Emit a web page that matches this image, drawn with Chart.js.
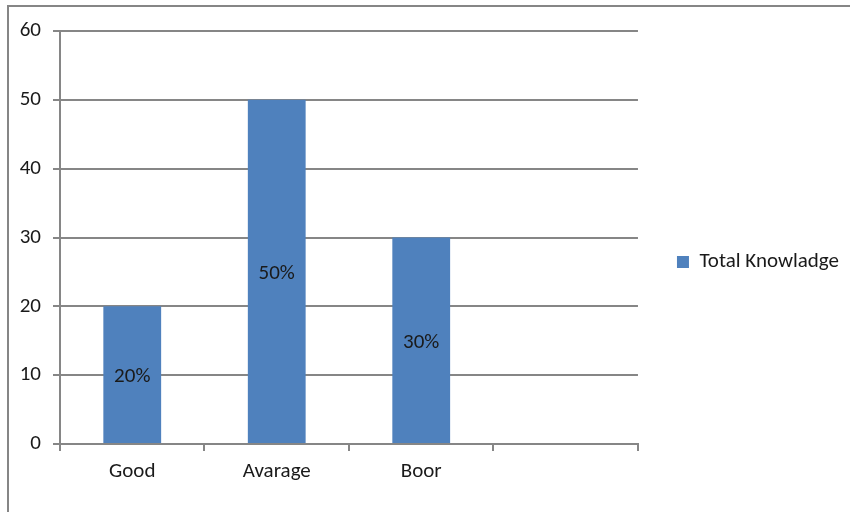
<!doctype html>
<html lang="en">
<head>
    <meta charset="utf-8">
    <title>Total Knowladge</title>
    <style>
        body { margin: 0; background: #fff; }
        .frame { position: absolute; left: 7px; top: 5px; width: 900px; height: 600px;
                 border-left: 2px solid #868686; border-top: 2px solid #868686; }
        #myChart { position: absolute; left: 0; top: 0; }
    </style>
</head>
<body>
    <div class="frame"></div>
    <canvas id="myChart" width="850" height="512"></canvas>

    <script src="https://cdn.jsdelivr.net/npm/chart.js"></script>
    <script>
        var categories = ['Good', 'Avarage', 'Boor', ''];
        var knowledge = [20, 50, 30, null];
        var yTicks = [0, 10, 20, 30, 40, 50, 60];

        var fontFamily = 'Carlito, Lato, "Open Sans", sans-serif';
        var gray = '#868686';
        var textColor = '#1a1a1a';

        // percent labels in the middle of each bar
        var barLabels = {
            id: 'barLabels',
            afterDatasetsDraw: function (chart) {
                var ctx = chart.ctx;
                var meta = chart.getDatasetMeta(0);
                ctx.save();
                ctx.font = '21px ' + fontFamily;
                ctx.fillStyle = textColor;
                ctx.textAlign = 'center';
                ctx.textBaseline = 'middle';
                meta.data.forEach(function (bar, i) {
                    var v = knowledge[i];
                    if (v == null) return;
                    ctx.fillText(v + '%', bar.x, (bar.y + bar.base) / 2 + 2);
                });
                ctx.restore();
            }
        };

        new Chart('myChart', {
            type: 'bar',
            data: {
                labels: categories,
                datasets: [{
                    label: 'Total Knowladge',
                    data: knowledge,
                    backgroundColor: '#4f81bd',
                    borderWidth: 0,
                    categoryPercentage: 1,
                    barPercentage: 0.4
                }]
            },
            options: {
                responsive: false,
                animation: false,
                layout: { padding: { top: 31, right: 1, bottom: 19, left: 0 } },
                plugins: {
                    tooltip: { enabled: false },
                    legend: {
                        position: 'right',
                        labels: {
                            boxWidth: 12,
                            boxHeight: 12,
                            padding: 39,
                            color: textColor,
                            font: { family: fontFamily, size: 21 }
                        }
                    }
                },
                scales: {
                    x: {
                        afterFit: function (scale) { scale.height = 49; },
                        grid: { drawOnChartArea: false, drawTicks: true, tickLength: 7, color: gray, lineWidth: 2 },
                        border: { color: gray, width: 2 },
                        ticks: { color: textColor, padding: 8, font: { family: fontFamily, size: 21 } }
                    },
                    y: {
                        min: 0,
                        max: 60,
                        afterFit: function (scale) { scale.width = 60; },
                        afterBuildTicks: function (scale) {
                            scale.ticks = yTicks.map(function (v) { return { value: v }; });
                        },
                        grid: { color: gray, lineWidth: 2, tickLength: 7 },
                        border: { color: gray, width: 2 },
                        ticks: { color: textColor, padding: 12, font: { family: fontFamily, size: 21 } }
                    }
                }
            },
            plugins: [barLabels]
        });
    </script>
</body>
</html>
